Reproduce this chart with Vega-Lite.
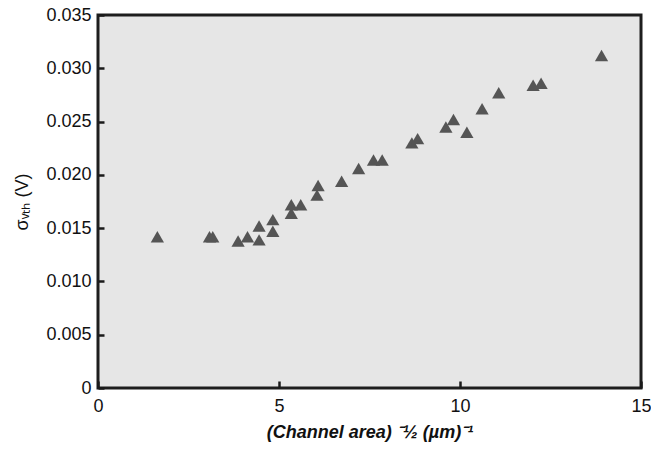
{
  "$schema": "https://vega.github.io/schema/vega-lite/v6.json",
  "width": 543,
  "height": 373,
  "autosize": "none",
  "padding": {"left": 98, "top": 15, "right": 10, "bottom": 62},
  "background": "white",
  "config": {
    "view": {"fill": "#e6e6e6", "stroke": "#1e1e1e", "strokeWidth": 3},
    "font": "Liberation Sans"
  },
  "data": {
    "values": [
      {"inv_sqrt_area": 1.64, "sigma_vth": 0.0142},
      {"inv_sqrt_area": 3.08, "sigma_vth": 0.0142},
      {"inv_sqrt_area": 3.17, "sigma_vth": 0.0142},
      {"inv_sqrt_area": 3.87, "sigma_vth": 0.0138},
      {"inv_sqrt_area": 4.13, "sigma_vth": 0.0142},
      {"inv_sqrt_area": 4.45, "sigma_vth": 0.0139},
      {"inv_sqrt_area": 4.45, "sigma_vth": 0.0152},
      {"inv_sqrt_area": 4.83, "sigma_vth": 0.0147},
      {"inv_sqrt_area": 4.83, "sigma_vth": 0.0158},
      {"inv_sqrt_area": 5.34, "sigma_vth": 0.0164},
      {"inv_sqrt_area": 5.34, "sigma_vth": 0.0172},
      {"inv_sqrt_area": 5.6, "sigma_vth": 0.0172},
      {"inv_sqrt_area": 6.05, "sigma_vth": 0.0181},
      {"inv_sqrt_area": 6.08, "sigma_vth": 0.019},
      {"inv_sqrt_area": 6.73, "sigma_vth": 0.0194},
      {"inv_sqrt_area": 7.2, "sigma_vth": 0.0206},
      {"inv_sqrt_area": 7.61, "sigma_vth": 0.0214},
      {"inv_sqrt_area": 7.85, "sigma_vth": 0.0214},
      {"inv_sqrt_area": 8.67, "sigma_vth": 0.023},
      {"inv_sqrt_area": 8.83, "sigma_vth": 0.0234},
      {"inv_sqrt_area": 9.61, "sigma_vth": 0.0245},
      {"inv_sqrt_area": 9.82, "sigma_vth": 0.0252},
      {"inv_sqrt_area": 10.19, "sigma_vth": 0.024},
      {"inv_sqrt_area": 10.61, "sigma_vth": 0.0262},
      {"inv_sqrt_area": 11.07, "sigma_vth": 0.0277},
      {"inv_sqrt_area": 12.02, "sigma_vth": 0.0284},
      {"inv_sqrt_area": 12.24, "sigma_vth": 0.0286},
      {"inv_sqrt_area": 13.91, "sigma_vth": 0.0312}
    ]
  },
  "mark": {"type": "point", "shape": "triangle-up", "filled": true, "size": 175, "color": "#555555", "opacity": 1},
  "encoding": {
    "x": {
      "field": "inv_sqrt_area",
      "type": "quantitative",
      "scale": {"domain": [0, 15], "nice": false, "zero": false},
      "axis": {
        "zindex": 1,
        "offset": -7,
        "title": "(Channel area) ⁻½ (µm)⁻¹",
        "titleFont": "Liberation Sans",
        "titleFontSize": 18,
        "titleFontWeight": "bold",
        "titleFontStyle": "italic",
        "titleColor": "#111111",
        "titlePadding": 8,
        "values": [0, 5, 10, 15],
        "domain": false,
        "grid": false,
        "ticks": true,
        "tickSize": 7,
        "tickWidth": 2.5,
        "tickColor": "#1a1a1a",
        "tickOpacity": 1,
        "labelFontSize": 18,
        "labelColor": "#111111",
        "labelPadding": 9,
        "labelFlush": false,
        "labelOverlap": false
      }
    },
    "y": {
      "field": "sigma_vth",
      "type": "quantitative",
      "scale": {"domain": [0, 0.035], "nice": false, "zero": false},
      "axis": {
        "zindex": 1,
        "offset": -6,
        "title": "σᵥₜₕ (V)",
        "titleFont": "Liberation Sans",
        "titleFontSize": 18,
        "titleFontWeight": "normal",
        "titleColor": "#111111",
        "titlePadding": 14,
        "values": [0, 0.005, 0.01, 0.015, 0.02, 0.025, 0.03, 0.035],
        "labelExpr": "datum.value == 0 ? '0' : format(datum.value, '.3f')",
        "domain": false,
        "grid": false,
        "ticks": true,
        "tickSize": 6,
        "tickWidth": 2.5,
        "tickColor": "#1a1a1a",
        "tickOpacity": 1,
        "labelFontSize": 18,
        "labelColor": "#111111",
        "labelPadding": 7,
        "labelFlush": false,
        "labelOverlap": false
      }
    }
  }
}
